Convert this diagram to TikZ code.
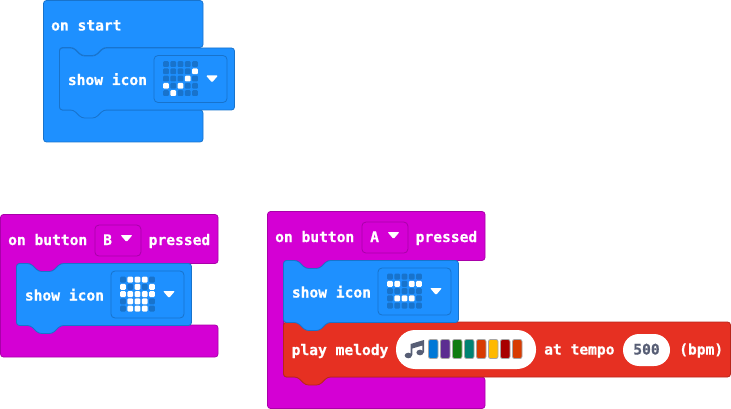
\documentclass[tikz,border=0pt]{standalone}
\usepackage{fontspec}
\setmonofont[BoldFeatures={FakeBold=0.6}]{DejaVu Sans Mono}
\usetikzlibrary{positioning}
\definecolor{BlockBlue}{HTML}{1E90FF}
\definecolor{EdgeBlue}{HTML}{1873CC}
\definecolor{BlockPink}{HTML}{D400D4}
\definecolor{EdgePink}{HTML}{A900A9}
\definecolor{BlockRed}{HTML}{E63022}
\definecolor{EdgeRed}{HTML}{B8261B}
\definecolor{FieldInk}{HTML}{575E75}
\definecolor{NoteBlue}{HTML}{0078D7}
\definecolor{NotePurple}{HTML}{5C2D91}
\definecolor{NoteGreen}{HTML}{107C10}
\definecolor{NoteTeal}{HTML}{008272}
\definecolor{NoteOrange}{HTML}{D83B01}
\definecolor{NoteYellow}{HTML}{FFB900}
\definecolor{NoteRed}{HTML}{A80000}
\tikzset{
  % Block outlines
  bBlue/.style={fill=BlockBlue,draw=EdgeBlue,line width=0.8pt,rounded corners=3pt},
  bPink/.style={fill=BlockPink,draw=EdgePink,line width=0.8pt,rounded corners=3pt},
  bRed/.style={fill=BlockRed,draw=EdgeRed,line width=0.8pt,rounded corners=3pt},
  % Text on blocks
  TX/.style={inner sep=0pt,text=white,font=\ttfamily\bfseries\fontsize{14.6}{16}\selectfont},
  % Dropdown fields
  ddIcon/.style={rectangle,rounded corners=4pt,draw=EdgeBlue,line width=0.8pt,
                 inner sep=0pt,minimum width=73pt,minimum height=47pt},
  ddBtn/.style={rectangle,rounded corners=4pt,draw=EdgePink,line width=0.8pt,
                inner sep=0pt,minimum width=46pt,minimum height=31pt},
  % Round value fields
  pill/.style={rectangle,rounded corners=16pt,fill=white,inner sep=0pt},
  led/.style={rounded corners=1pt},
  swatch/.style={rounded corners=2pt,draw=gray!70,line width=0.8pt}
}
% white tip of a dropdown
\newcommand{\ddTip}[2]{%
  \fill[white,rounded corners=1pt] (#1-6,#2-3.5) -- (#1+6,#2-3.5) -- (#1,#2+3.5) -- cycle;}
% hat block: x, top, right, arm bottom, lower arm top, bottom
\newcommand{\hatBlock}[7]{%
  \draw[#1] (#2,#3) -- (#4,#3) -- (#4,#5) -- (#2+60,#5) -- (#2+52,#5+8) -- (#2+38,#5+8)
    -- (#2+30,#5) -- (#2+16,#5) -- (#2+16,#6) -- (#4,#6) -- (#4,#7) -- (#2,#7) -- cycle;}
% statement block: x, y, width, height
\newcommand{\stackBlock}[5]{%
  \draw[#1] (#2,#3) -- (#2+14,#3) -- (#2+22,#3+8) -- (#2+36,#3+8) -- (#2+44,#3) -- (#2+#4,#3)
    -- (#2+#4,#3+#5) -- (#2+44,#3+#5) -- (#2+36,#3+#5+8) -- (#2+22,#3+#5+8)
    -- (#2+14,#3+#5) -- (#2,#3+#5) -- cycle;}
% show icon block: name, x, y, lit leds
\newcommand{\showIcon}[4]{%
  \stackBlock{bBlue}{#2}{#3}{175}{62}
  \begin{scope}[shift={(#2,#3)}]
    \node[TX,anchor=base west] (#1txt) at (8.2,37) {show icon};
    \node[ddIcon] (#1dd) at (131,31) {};
    \foreach \r in {0,...,4}
      \foreach \c in {0,...,4}
        \fill[EdgeBlue,led] (103.6+7.25*\c,13.2+7.25*\r) rectangle ++(5.8,5.8);
    \foreach \r/\c in {#4}
      \fill[white,led] (103.6+7.25*\c,13.2+7.25*\r) rectangle ++(5.8,5.8);
    \ddTip{152.5}{31}
  \end{scope}}
\begin{document}
\begin{tikzpicture}[x=1pt,y=-1pt]
  \useasboundingbox (0,0) rectangle (731,409);
  % on start
  \hatBlock{bBlue}{43.5}{0.5}{203}{47.5}{110}{142}
  \node[TX,anchor=base west] (start) at (51,30.5) {on start};
  \showIcon{yes}{59.5}{48}{1/4,2/3,3/0,3/2,4/1}
  % button B
  \hatBlock{bPink}{0.5}{214.5}{218}{263.5}{325}{357}
  \node[TX,anchor=base west] (onB) at (8,245) {on button};
  \node[ddBtn,right=7pt of onB.east,yshift=-1pt] (ddB) {};
  \node[TX,anchor=base west] (keyB) at (103,245) {B};
  \ddTip{126.5}{238.5}
  \node[TX,base right=8pt of onB,xshift=53pt] (pressB) {pressed};
  \showIcon{skull}{16.5}{263.5}{0/1,0/2,0/3,1/0,1/2,1/4,2/0,2/1,2/2,2/3,2/4,3/1,3/2,3/3,4/1,4/2,4/3}
  % button A
  \hatBlock{bPink}{267.5}{211.5}{485}{260.5}{377}{408.5}
  \node[TX,anchor=base west] (onA) at (275,242) {on button};
  \node[ddBtn,right=7pt of onA.east,yshift=-1pt] (ddA) {};
  \node[TX,anchor=base west] (keyA) at (370,242) {A};
  \ddTip{393.5}{235.5}
  \node[TX,base right=8pt of onA,xshift=53pt] (pressA) {pressed};
  % melody
  \stackBlock{bRed}{283.5}{322}{447}{55}
  \showIcon{smile}{283.5}{260.5}{1/0,1/1,1/3,1/4,3/1,3/2,3/3}
  \node[TX,anchor=base west] (play) at (291.5,355) {play melody};
  \node[pill,minimum width=140pt,minimum height=39pt,rounded corners=19pt] (melody) at (466,349.5) {};
  \fill[FieldInk] (408.3,355.5) ellipse (3.6 and 2.8) (420,352.5) ellipse (3.6 and 2.8);
  \fill[FieldInk] (410.6,355) -- (410.6,344) -- (424,340) -- (424,352.5) -- (422.4,352.5)
    -- (422.4,345.5) -- (412.4,348.5) -- (412.4,355) -- cycle;
  \foreach \n/\col in {0/NoteBlue,1/NotePurple,2/NoteGreen,3/NoteTeal,4/NoteOrange,5/NoteYellow,6/NoteRed,7/NoteOrange}
    \draw[swatch,fill=\col] (428.5+12*\n,339.5) rectangle ++(9.5,19);
  \node[TX,anchor=base west] (attempo) at (544,354.5) {at tempo};
  \node[pill,minimum width=47pt,minimum height=32pt] (tempo) at (646.5,350) {};
  \node[TX,text=FieldInk,anchor=base] (tempoval) at (646.5,354.5) {500};
  \node[TX,anchor=base west] (bpm) at (679,354.5) {(bpm)};
\end{tikzpicture}
\end{document}
